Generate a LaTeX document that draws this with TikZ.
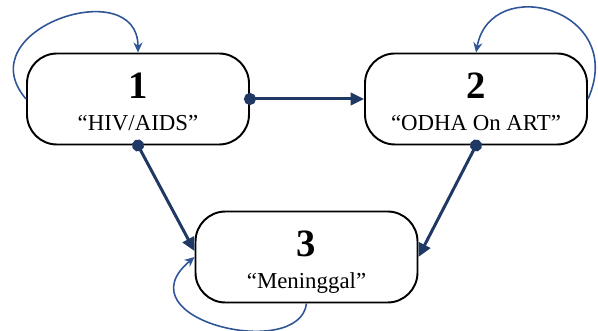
\documentclass[tikz,border=0pt]{standalone}
\usepackage{fontspec}
\setmainfont{Liberation Serif}
\usetikzlibrary{arrows.meta}
\definecolor{flownavy}{RGB}{31,56,100}
\definecolor{loopblue}{RGB}{47,85,151}
\newcommand{\stagenum}[1]{\rule{0pt}{21pt}{\fontsize{22}{22}\selectfont\bfseries #1}}
\newcommand{\stagename}[1]{#1\rule[-3pt]{0pt}{3pt}}

\begin{document}
\begin{tikzpicture}[
    stage/.style={rectangle, draw=black, line width=1.1pt, fill=white, rounded corners=0.6cm,
        minimum width=4.44cm, minimum height=1.82cm, align=center, font=\fontsize{13}{18}\selectfont},
    flow/.style={{Circle[length=0.24cm]}-{Triangle[length=0.27cm, width=0.25cm]}, line width=1.7pt,
        draw=flownavy, shorten <=-0.12cm},
    selfloop/.style={-{Stealth[length=0.2cm, width=0.18cm]}, line width=0.9pt, draw=loopblue}]

    \useasboundingbox (0,0) rectangle (11.96,6.62);

    % states
    \node[stage] (s1) at (2.76, 4.64) {\stagenum{1}\\\stagename{“HIV/AIDS”}};
    \node[stage] (s2) at (9.52, 4.64) {\stagenum{2}\\\stagename{“ODHA On ART”}};
    \node[stage] (s3) at (6.13, 1.48) {\stagenum{3}\\\stagename{“Meninggal”}};

    % transitions
    \draw[flow] (s1.east) -- (s2.west);
    \draw[flow] (s1.south) -- (s3.177);
    \draw[flow] (s2.south) -- (s3.east);

    % self loops
    \draw[selfloop] (s1.west) .. controls +(-1.2,1.4) and +(0,1.6) .. (s1.north);
    \draw[selfloop] (s2.east) .. controls +(0.8,1.8) and +(0.3,1.6) .. (s2.north);
    \draw[selfloop] (s3.south) .. controls +(-0.14,-1.16) and +(-1.5,-1.26) .. (s3.west);
\end{tikzpicture}
\end{document}
